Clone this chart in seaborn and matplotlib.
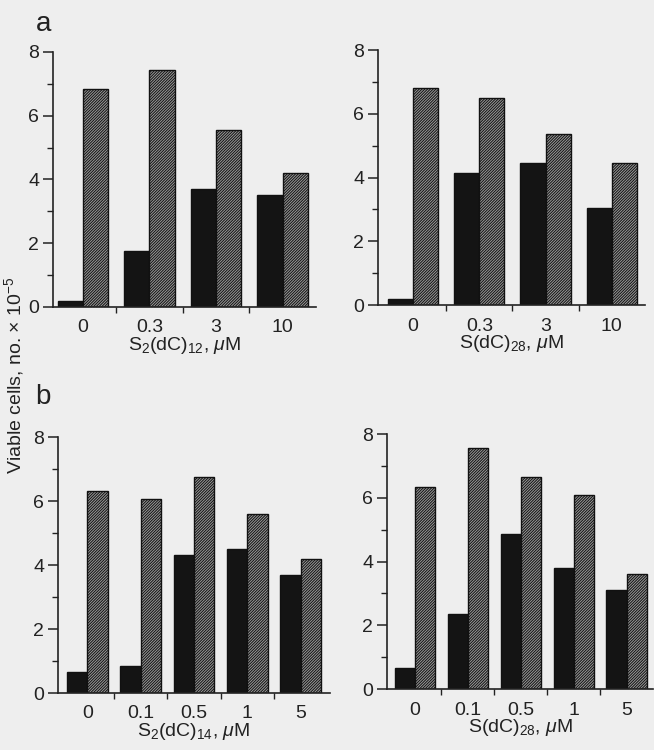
import numpy as np
import pandas as pd
import matplotlib
matplotlib.use("Agg")
import matplotlib.pyplot as plt
import seaborn as sns

sns.set_theme(style="ticks")
plt.rcParams['font.family'] = ['Liberation Sans', 'DejaVu Sans']
plt.rcParams['mathtext.fontset'] = 'custom'
plt.rcParams['mathtext.rm'] = 'Liberation Sans'
plt.rcParams['mathtext.it'] = 'Liberation Sans:italic'
plt.rcParams['hatch.linewidth'] = 0.7
plt.rcParams['hatch.color'] = '#333333'

# panel a, left: S2(dC)12
conc_a1 = ["0", "0.3", "3", "10"]
solid_a1 = [0.2, 1.75, 3.7, 3.5]
hatched_a1 = [6.85, 7.45, 5.55, 4.2]

# panel a, right: S(dC)28
conc_a2 = ["0", "0.3", "3", "10"]
solid_a2 = [0.2, 4.15, 4.45, 3.05]
hatched_a2 = [6.8, 6.5, 5.35, 4.45]

# panel b, left: S2(dC)14
conc_b1 = ["0", "0.1", "0.5", "1", "5"]
solid_b1 = [0.65, 0.85, 4.3, 4.5, 3.7]
hatched_b1 = [6.3, 6.05, 6.75, 5.6, 4.2]

# panel b, right: S(dC)28
conc_b2 = ["0", "0.1", "0.5", "1", "5"]
solid_b2 = [0.65, 2.35, 4.85, 3.8, 3.1]
hatched_b2 = [6.35, 7.55, 6.65, 6.1, 3.6]

xlabels = [r"S$_2$(dC)$_{12}$, $\mu$M", r"S(dC)$_{28}$, $\mu$M",
           r"S$_2$(dC)$_{14}$, $\mu$M", r"S(dC)$_{28}$, $\mu$M"]

bg = "#eeeeee"
fig = plt.figure(figsize=(6.54, 7.5), dpi=100, facecolor=bg)

panels = [
    (conc_a1, solid_a1, hatched_a1, [0.081, 0.5907, 0.402, 0.34], (-0.45, 3.5)),
    (conc_a2, solid_a2, hatched_a2, [0.578, 0.5933, 0.408, 0.34], (-0.53, 3.5)),
    (conc_b1, solid_b1, hatched_b1, [0.0887, 0.076, 0.416, 0.3413], (-0.55, 4.55)),
    (conc_b2, solid_b2, hatched_b2, [0.5917, 0.0813, 0.4067, 0.34], (-0.53, 4.5)),
]

for (conc, solid, hatched, pos, xl), xlab in zip(panels, xlabels):
    ax = fig.add_axes(pos)
    ax.set_facecolor("none")
    df = pd.DataFrame({
        "conc": conc + conc,
        "cells": solid + hatched,
        "kind": ["solid"] * len(conc) + ["hatched"] * len(conc),
    })
    sns.barplot(data=df, x="conc", y="cells", hue="kind", order=conc,
                hue_order=["solid", "hatched"],
                palette={"solid": "#141414", "hatched": "#9a9a9a"},
                width=0.76, gap=0, legend=False, ax=ax,
                edgecolor="#111111", linewidth=1.0, saturation=1)
    for bar in ax.containers[1]:
        bar.set_hatch("////////////")
        if hasattr(bar, "set_hatchcolor"):
            bar.set_hatchcolor("#333333")
    ax.set_ylim(0, 8)
    ax.set_xlim(*xl)
    ax.set_yticks([0, 2, 4, 6, 8])
    ax.set_yticks([1, 3, 5, 7], minor=True)
    ax.set_xticks(np.arange(len(conc)))
    ax.set_xticklabels(conc)
    ax.set_xticks(np.arange(len(conc) - 1) + 0.5, minor=True)
    ax.tick_params(axis="x", which="major", length=0, pad=9, labelsize=14, colors="#222222")
    ax.tick_params(axis="x", which="minor", length=4, width=1.0, color="#222222")
    ax.tick_params(axis="y", which="major", length=7, width=1.1, labelsize=14, pad=3, colors="#222222")
    ax.tick_params(axis="y", which="minor", length=4, width=1.0, color="#222222")
    ax.set_xlabel(xlab, fontsize=14, labelpad=-1, color="#222222")
    ax.set_ylabel("")
    for s in ["top", "right"]:
        ax.spines[s].set_visible(False)
    for s in ["left", "bottom"]:
        ax.spines[s].set_linewidth(1.2)
        ax.spines[s].set_color("#222222")

fig.text(0.022, 0.5, r"Viable cells, no. $\times$ 10$^{-5}$", rotation=90,
         ha="center", va="center", fontsize=14, color="#222222")
fig.text(0.066, 0.968, "a", fontsize=20, ha="center", va="center", color="#222222")
fig.text(0.066, 0.47, "b", fontsize=20, ha="center", va="center", color="#222222")

fig.savefig("out.png", dpi=100, facecolor=bg)
